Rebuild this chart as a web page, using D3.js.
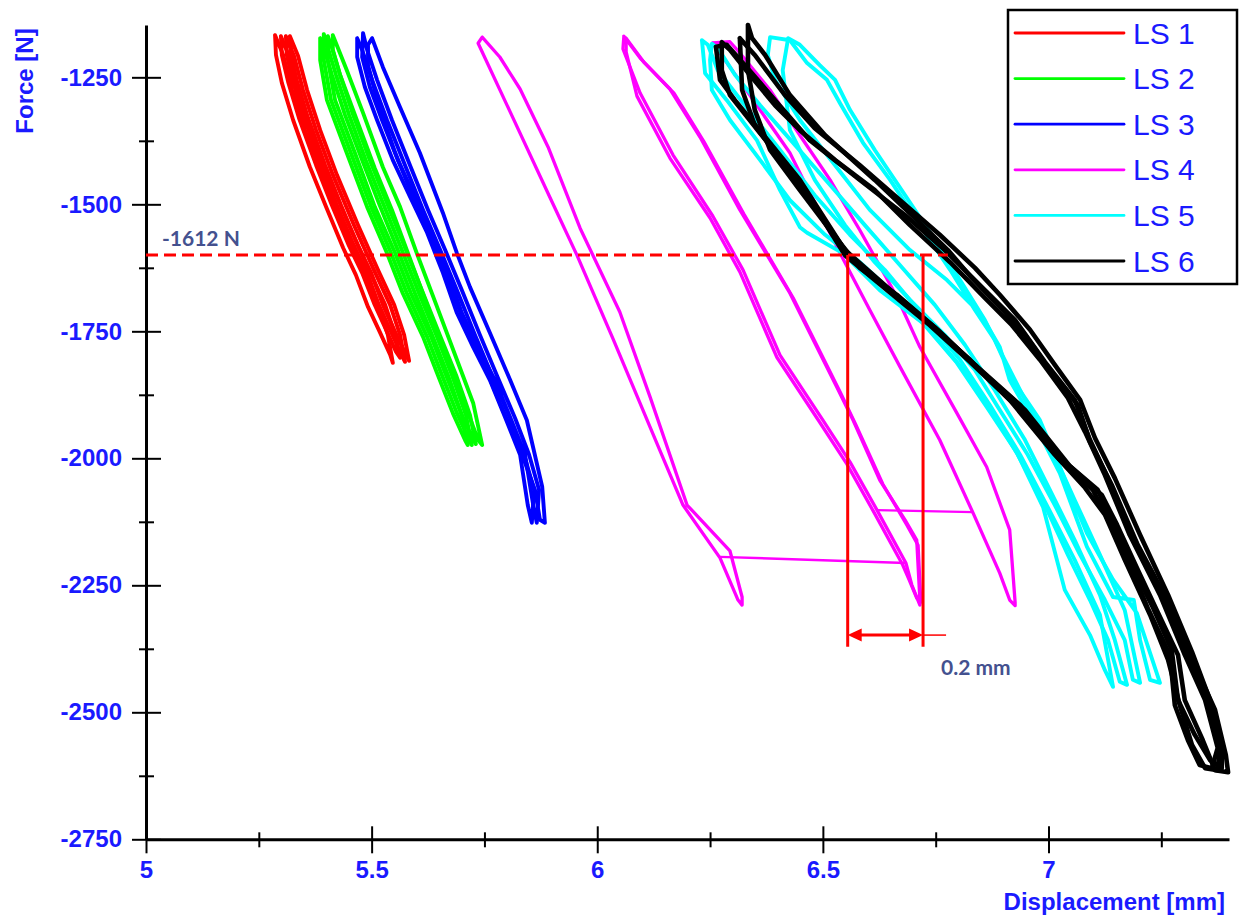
<!DOCTYPE html>
<html><head><meta charset="utf-8">
<script src="https://cdn.jsdelivr.net/npm/d3@7"></script>
<style>html,body{margin:0;padding:0;background:#fff}svg{display:block}</style>
</head><body>
<svg id="chart" width="1240" height="917"></svg>
<script>
// ---------- data ----------
const seriesNames = ["LS 1","LS 2","LS 3","LS 4","LS 5","LS 6"];
const seriesColors = ["#ff0000","#00ff00","#0000ff","#ff00ff","#00ffff","#000000"];
const xTicks = [5,5.5,6,6.5,7];
const xMinorTicks = [5.25,5.75,6.25,6.75,7.25];
const yTicks = [-2750,-2500,-2250,-2000,-1750,-1500,-1250];
const yMinorTicks = [-2625,-2375,-2125,-1875,-1625,-1375];

// displacement [mm], force [N]
const ls1Loops = [
 [[5.286,-1167],[5.304,-1206],[5.324,-1275],[5.352,-1354],[5.390,-1442],[5.437,-1541],[5.481,-1629],[5.514,-1698],[5.536,-1757],[5.547,-1812],[5.541,-1796],[5.518,-1751],[5.492,-1702],[5.465,-1639],[5.437,-1586],[5.399,-1505],[5.363,-1426],[5.326,-1334],[5.301,-1261],[5.288,-1206],[5.286,-1167]],
 [[5.299,-1169],[5.317,-1208],[5.337,-1275],[5.366,-1354],[5.403,-1442],[5.450,-1541],[5.494,-1629],[5.530,-1698],[5.552,-1757],[5.563,-1802],[5.554,-1790],[5.532,-1747],[5.505,-1694],[5.479,-1635],[5.450,-1582],[5.412,-1502],[5.377,-1423],[5.339,-1330],[5.315,-1259],[5.301,-1206],[5.299,-1169]],
 [[5.310,-1169],[5.328,-1208],[5.348,-1275],[5.377,-1354],[5.414,-1442],[5.461,-1541],[5.505,-1629],[5.541,-1698],[5.563,-1757],[5.574,-1810],[5.565,-1794],[5.543,-1751],[5.516,-1698],[5.490,-1635],[5.461,-1582],[5.423,-1502],[5.388,-1423],[5.350,-1330],[5.326,-1259],[5.312,-1206],[5.310,-1169]],
 [[5.319,-1169],[5.337,-1208],[5.357,-1275],[5.386,-1354],[5.423,-1442],[5.470,-1541],[5.514,-1629],[5.550,-1698],[5.572,-1757],[5.583,-1808],[5.574,-1794],[5.552,-1751],[5.525,-1698],[5.499,-1635],[5.470,-1582],[5.432,-1502],[5.397,-1423],[5.359,-1330],[5.335,-1259],[5.321,-1206],[5.319,-1169]]
];
const ls2Loops = [
 [[5.386,-1173],[5.392,-1186],[5.412,-1245],[5.441,-1324],[5.479,-1413],[5.518,-1502],[5.558,-1590],[5.596,-1675],[5.634,-1757],[5.669,-1836],[5.700,-1915],[5.713,-1974],[5.707,-1964],[5.680,-1911],[5.645,-1832],[5.614,-1761],[5.569,-1675],[5.534,-1596],[5.490,-1505],[5.445,-1399],[5.401,-1295],[5.386,-1216],[5.386,-1173]],
 [[5.394,-1165],[5.401,-1186],[5.421,-1245],[5.450,-1324],[5.487,-1413],[5.527,-1502],[5.567,-1590],[5.605,-1675],[5.643,-1757],[5.678,-1836],[5.709,-1915],[5.722,-1974],[5.716,-1964],[5.689,-1911],[5.654,-1832],[5.623,-1761],[5.578,-1675],[5.543,-1596],[5.499,-1505],[5.454,-1399],[5.410,-1295],[5.394,-1216],[5.394,-1165]],
 [[5.403,-1169],[5.410,-1186],[5.430,-1245],[5.459,-1324],[5.496,-1413],[5.536,-1502],[5.576,-1590],[5.614,-1675],[5.651,-1757],[5.687,-1836],[5.718,-1915],[5.731,-1972],[5.725,-1964],[5.698,-1911],[5.663,-1832],[5.632,-1761],[5.587,-1675],[5.552,-1596],[5.507,-1505],[5.463,-1399],[5.419,-1295],[5.403,-1216],[5.403,-1169]],
 [[5.414,-1167],[5.445,-1236],[5.481,-1320],[5.525,-1427],[5.563,-1505],[5.600,-1596],[5.645,-1702],[5.689,-1806],[5.725,-1891],[5.745,-1974],[5.736,-1964],[5.707,-1895],[5.671,-1810],[5.627,-1708],[5.583,-1602],[5.545,-1511],[5.507,-1429],[5.463,-1324],[5.430,-1245],[5.414,-1196],[5.414,-1167]]
];
const ls3Loops = [
 [[5.468,-1173],[5.479,-1196],[5.501,-1255],[5.534,-1334],[5.574,-1423],[5.614,-1511],[5.652,-1590],[5.689,-1669],[5.729,-1757],[5.769,-1842],[5.807,-1921],[5.838,-1993],[5.860,-2062],[5.855,-2127],[5.846,-2092],[5.829,-1993],[5.798,-1924],[5.762,-1846],[5.725,-1781],[5.689,-1714],[5.658,-1635],[5.623,-1556],[5.585,-1485],[5.547,-1413],[5.512,-1334],[5.485,-1269],[5.468,-1210],[5.468,-1173]],
 [[5.481,-1163],[5.490,-1196],[5.512,-1255],[5.545,-1334],[5.585,-1423],[5.625,-1511],[5.663,-1590],[5.700,-1669],[5.740,-1757],[5.780,-1842],[5.818,-1921],[5.849,-1993],[5.871,-2062],[5.866,-2127],[5.858,-2092],[5.840,-1993],[5.809,-1924],[5.773,-1846],[5.736,-1781],[5.700,-1714],[5.669,-1635],[5.634,-1556],[5.596,-1485],[5.558,-1413],[5.523,-1334],[5.496,-1269],[5.479,-1210],[5.481,-1163]],
 [[5.501,-1173],[5.525,-1230],[5.563,-1309],[5.607,-1399],[5.658,-1517],[5.689,-1596],[5.718,-1663],[5.762,-1753],[5.807,-1846],[5.844,-1925],[5.878,-2056],[5.884,-2127],[5.873,-2121],[5.862,-2062],[5.829,-1983],[5.791,-1905],[5.749,-1816],[5.707,-1738],[5.674,-1659],[5.640,-1580],[5.594,-1491],[5.550,-1393],[5.514,-1300],[5.492,-1226],[5.492,-1186],[5.501,-1173]]
];
const ls4Loops = [
 [[5.745,-1171],[5.784,-1210],[5.829,-1273],[5.891,-1387],[5.962,-1547],[6.050,-1712],[6.117,-1879],[6.199,-2092],[6.294,-2182],[6.321,-2273],[6.321,-2289],[6.312,-2279],[6.272,-2196],[6.190,-2092],[6.132,-1970],[6.035,-1765],[5.955,-1600],[5.895,-1486],[5.807,-1318],[5.736,-1183],[5.745,-1171]],
 [[6.059,-1169],[6.095,-1212],[6.161,-1273],[6.228,-1368],[6.316,-1511],[6.427,-1675],[6.531,-1860],[6.567,-1925],[6.626,-2043],[6.682,-2121],[6.708,-2161],[6.715,-2279],[6.715,-2289],[6.697,-2249],[6.684,-2206],[6.620,-2102],[6.560,-2007],[6.500,-1925],[6.405,-1797],[6.323,-1629],[6.256,-1523],[6.168,-1403],[6.095,-1281],[6.057,-1194],[6.059,-1169]],
 [[6.064,-1173],[6.103,-1220],[6.170,-1281],[6.236,-1376],[6.325,-1519],[6.434,-1684],[6.538,-1869],[6.573,-1934],[6.633,-2051],[6.686,-2131],[6.711,-2171],[6.717,-2283],[6.708,-2275],[6.691,-2239],[6.677,-2210],[6.613,-2106],[6.553,-2011],[6.493,-1929],[6.398,-1801],[6.316,-1633],[6.250,-1527],[6.161,-1409],[6.088,-1287],[6.064,-1200],[6.064,-1173]],
 [[6.256,-1182],[6.294,-1180],[6.316,-1202],[6.383,-1275],[6.449,-1364],[6.516,-1452],[6.582,-1551],[6.664,-1682],[6.715,-1781],[6.797,-1911],[6.863,-2017],[6.914,-2141],[6.926,-2283],[6.926,-2290],[6.914,-2279],[6.892,-2226],[6.833,-2108],[6.759,-1964],[6.671,-1820],[6.604,-1708],[6.538,-1596],[6.427,-1399],[6.338,-1285],[6.256,-1182]]
];
const ls4Jumps = [
 [[6.272,-2194],[6.684,-2206]],
 [[6.620,-2102],[6.833,-2106]]
];
const ls5Loops = [
 [[6.232,-1177],[6.245,-1186],[6.267,-1236],[6.327,-1305],[6.405,-1393],[6.482,-1482],[6.560,-1560],[6.637,-1629],[6.726,-1724],[6.804,-1806],[6.870,-1895],[6.937,-1993],[6.996,-2092],[7.058,-2200],[7.114,-2308],[7.143,-2450],[7.125,-2417],[7.092,-2348],[7.036,-2259],[6.988,-2096],[6.930,-1989],[6.863,-1899],[6.797,-1812],[6.722,-1734],[6.626,-1669],[6.544,-1596],[6.465,-1556],[6.449,-1545],[6.405,-1472],[6.354,-1374],[6.287,-1295],[6.239,-1242],[6.232,-1177]],
 [[6.383,-1171],[6.427,-1177],[6.465,-1222],[6.509,-1255],[6.538,-1301],[6.589,-1379],[6.649,-1452],[6.715,-1541],[6.782,-1629],[6.837,-1708],[6.881,-1767],[6.921,-1846],[6.981,-1925],[7.025,-2017],[7.085,-2147],[7.143,-2239],[7.196,-2305],[7.247,-2442],[7.225,-2436],[7.203,-2358],[7.189,-2279],[7.143,-2273],[7.085,-2174],[7.025,-2029],[6.965,-1925],[6.914,-1846],[6.892,-1781],[6.848,-1714],[6.775,-1649],[6.693,-1590],[6.604,-1511],[6.527,-1423],[6.449,-1334],[6.394,-1255],[6.378,-1206],[6.383,-1171]],
 [[6.423,-1173],[6.449,-1186],[6.493,-1226],[6.527,-1255],[6.560,-1314],[6.615,-1393],[6.682,-1482],[6.748,-1570],[6.804,-1649],[6.859,-1728],[6.903,-1806],[6.948,-1885],[7.003,-1974],[7.058,-2082],[7.114,-2190],[7.169,-2299],[7.203,-2442],[7.187,-2436],[7.169,-2358],[7.125,-2279],[7.070,-2190],[7.014,-2092],[6.954,-1993],[6.892,-1905],[6.837,-1826],[6.770,-1757],[6.693,-1688],[6.615,-1614],[6.549,-1541],[6.482,-1452],[6.427,-1354],[6.411,-1236],[6.423,-1173]],
 [[6.254,-1184],[6.267,-1192],[6.305,-1245],[6.361,-1305],[6.438,-1383],[6.516,-1462],[6.593,-1541],[6.671,-1620],[6.748,-1698],[6.815,-1777],[6.881,-1866],[6.948,-1964],[7.003,-2062],[7.058,-2161],[7.114,-2269],[7.147,-2358],[7.174,-2446],[7.158,-2440],[7.132,-2358],[7.092,-2279],[7.043,-2190],[6.992,-2092],[6.932,-1993],[6.870,-1901],[6.808,-1822],[6.737,-1747],[6.660,-1678],[6.582,-1614],[6.505,-1560],[6.427,-1492],[6.361,-1413],[6.294,-1334],[6.254,-1275],[6.250,-1216],[6.254,-1184]]
];
const ls6Loops = [
 [[6.263,-1190],[6.287,-1186],[6.327,-1226],[6.394,-1295],[6.471,-1374],[6.582,-1452],[6.682,-1521],[6.770,-1590],[6.859,-1669],[6.926,-1728],[6.992,-1810],[7.058,-1885],[7.092,-1964],[7.136,-2047],[7.191,-2161],[7.258,-2279],[7.313,-2397],[7.358,-2486],[7.384,-2574],[7.384,-2610],[7.358,-2594],[7.324,-2544],[7.287,-2476],[7.273,-2377],[7.229,-2289],[7.185,-2210],[7.140,-2125],[7.109,-2062],[7.036,-2007],[6.937,-1895],[6.837,-1816],[6.748,-1742],[6.649,-1669],[6.560,-1606],[6.449,-1452],[6.378,-1374],[6.305,-1295],[6.272,-1255],[6.263,-1190]],
 [[6.334,-1147],[6.343,-1173],[6.372,-1206],[6.427,-1285],[6.505,-1364],[6.615,-1452],[6.697,-1521],[6.777,-1590],[6.830,-1645],[6.903,-1712],[6.948,-1757],[7.003,-1826],[7.065,-1895],[7.092,-1968],[7.140,-2052],[7.198,-2171],[7.269,-2289],[7.324,-2407],[7.369,-2495],[7.393,-2584],[7.398,-2618],[7.369,-2614],[7.342,-2555],[7.302,-2476],[7.287,-2387],[7.240,-2299],[7.196,-2216],[7.152,-2131],[7.118,-2072],[7.047,-2015],[6.948,-1905],[6.848,-1826],[6.759,-1751],[6.664,-1678],[6.582,-1625],[6.516,-1551],[6.449,-1472],[6.383,-1393],[6.349,-1314],[6.334,-1236],[6.334,-1147]],
 [[6.316,-1173],[6.349,-1206],[6.416,-1285],[6.482,-1350],[6.582,-1423],[6.671,-1492],[6.759,-1560],[6.837,-1625],[6.892,-1678],[6.959,-1747],[7.014,-1816],[7.070,-1885],[7.103,-1960],[7.147,-2039],[7.203,-2151],[7.265,-2269],[7.318,-2381],[7.358,-2476],[7.380,-2564],[7.375,-2614],[7.347,-2610],[7.318,-2564],[7.291,-2486],[7.265,-2397],[7.225,-2308],[7.169,-2200],[7.125,-2111],[7.081,-2058],[7.014,-1993],[6.914,-1885],[6.826,-1806],[6.726,-1728],[6.637,-1659],[6.549,-1590],[6.471,-1492],[6.405,-1413],[6.349,-1344],[6.321,-1275],[6.316,-1173]],
 [[6.276,-1181],[6.294,-1196],[6.338,-1245],[6.394,-1305],[6.449,-1354],[6.527,-1413],[6.615,-1472],[6.693,-1541],[6.782,-1614],[6.859,-1684],[6.919,-1738],[6.981,-1806],[7.043,-1881],[7.081,-1948],[7.125,-2033],[7.180,-2151],[7.247,-2269],[7.302,-2387],[7.347,-2476],[7.375,-2570],[7.362,-2610],[7.335,-2604],[7.309,-2555],[7.280,-2486],[7.269,-2387],[7.220,-2295],[7.180,-2210],[7.132,-2121],[7.098,-2062],[7.025,-2003],[6.926,-1895],[6.826,-1810],[6.737,-1738],[6.637,-1665],[6.549,-1600],[6.438,-1442],[6.361,-1360],[6.294,-1285],[6.276,-1236],[6.276,-1181]]
];

// annotation values
const refForce = -1600;          // dashed reference line
const refLabel = "-1612 N";
const refEndDisp = 6.777;
const markDisp = [6.555, 6.722]; // vertical marker lines
const markBottomForce = -2371;
const arrowForce = -2348;
const arrowExtDisp = 6.773;
const gapLabel = "0.2 mm";

// ---------- drawing ----------
const svg = d3.select("#chart");
const fontFam = "'Liberation Sans', Arial, Helvetica, sans-serif";
const blue = "#1a1aff";
const noteColor = "#44518f";

const x = d3.scaleLinear().domain([5, 7.4]).range([146, 1229]);
const y = d3.scaleLinear().domain([-2750, -1147]).range([839.3, 25]);

const line = d3.line().x(d => x(d[0])).y(d => y(d[1]));

const all = [ls1Loops, ls2Loops, ls3Loops, ls4Loops, ls5Loops, ls6Loops];
const widths = [3.9, 3.9, 3.9, 3.3, 3.9, 4.6];
const plot = svg.append("g");
all.forEach((loops, i) => {
  plot.append("g").selectAll("path").data(loops).join("path")
    .attr("d", line).attr("fill", "none")
    .attr("stroke", seriesColors[i]).attr("stroke-width", widths[i])
    .attr("stroke-linejoin", "round").attr("stroke-linecap", "round");
  if (i === 3) {
    plot.append("g").selectAll("path").data(ls4Jumps).join("path")
      .attr("d", line).attr("fill", "none")
      .attr("stroke", seriesColors[3]).attr("stroke-width", 2.4);
  }
});

// axes
function styleAxis(g) {
  g.selectAll(".tick line").attr("stroke", "#000").attr("stroke-width", 2);
  g.selectAll(".tick text").attr("fill", blue)
    .style("font-family", fontFam).style("font-weight", "bold").style("font-size", "24px");
}
const x0 = x(5), y0 = y(-2750);
// Y axis
const gy = svg.append("g").attr("transform", `translate(${x0},0)`)
  .call(d3.axisLeft(y).tickValues(yTicks).tickSizeInner(14).tickSizeOuter(0).tickPadding(10).tickFormat(d => String(d)));
gy.select(".domain").attr("stroke", "#000").attr("stroke-width", 3);
styleAxis(gy);
svg.append("g").attr("transform", `translate(${x0},0)`)
  .call(d3.axisRight(y).tickValues(yTicks).tickSize(15).tickFormat(""))
  .call(g => { g.select(".domain").remove(); styleAxis(g); });
svg.append("g").attr("transform", `translate(${x0},0)`)
  .call(d3.axisLeft(y).tickValues(yMinorTicks).tickSize(7).tickFormat(""))
  .call(g => { g.select(".domain").remove(); styleAxis(g); });
svg.append("g").attr("transform", `translate(${x0},0)`)
  .call(d3.axisRight(y).tickValues(yMinorTicks).tickSize(8).tickFormat(""))
  .call(g => { g.select(".domain").remove(); styleAxis(g); });
// X axis
const gx = svg.append("g").attr("transform", `translate(0,${y0})`)
  .call(d3.axisBottom(x).tickValues(xTicks).tickSizeInner(14).tickSizeOuter(0).tickPadding(8).tickFormat(d => String(d)));
gx.select(".domain").attr("stroke", "#000").attr("stroke-width", 3);
styleAxis(gx);
svg.append("g").attr("transform", `translate(0,${y0})`)
  .call(d3.axisTop(x).tickValues(xTicks).tickSize(13).tickFormat(""))
  .call(g => { g.select(".domain").remove(); styleAxis(g); });
svg.append("g").attr("transform", `translate(0,${y0})`)
  .call(d3.axisBottom(x).tickValues(xMinorTicks).tickSize(8).tickFormat(""))
  .call(g => { g.select(".domain").remove(); styleAxis(g); });
svg.append("g").attr("transform", `translate(0,${y0})`)
  .call(d3.axisTop(x).tickValues(xMinorTicks).tickSize(7).tickFormat(""))
  .call(g => { g.select(".domain").remove(); styleAxis(g); });

// axis titles
svg.append("text").attr("transform", "translate(33,81) rotate(-90)")
  .attr("text-anchor", "middle").attr("fill", blue)
  .style("font-family", fontFam).style("font-weight", "bold").style("font-size", "24px")
  .text("Force [N]");
svg.append("text").attr("x", 1225).attr("y", 910)
  .attr("text-anchor", "end").attr("fill", blue)
  .style("font-family", fontFam).style("font-weight", "bold").style("font-size", "24px")
  .text("Displacement [mm]");

// annotations
const red = "#ff0000";
svg.append("line").attr("x1", x(5)).attr("x2", x(refEndDisp))
  .attr("y1", y(refForce)).attr("y2", y(refForce))
  .attr("stroke", red).attr("stroke-width", 3).attr("stroke-dasharray", "12,6");
svg.append("text").attr("x", x(5) + 16).attr("y", y(refForce) - 9)
  .attr("fill", noteColor)
  .style("font-family", "Lato, 'Open Sans', sans-serif").style("font-weight", "bold").style("font-size", "21px")
  .text(refLabel);
markDisp.forEach(d => {
  svg.append("line").attr("x1", x(d)).attr("x2", x(d))
    .attr("y1", y(refForce)).attr("y2", y(markBottomForce))
    .attr("stroke", red).attr("stroke-width", 3);
});
const ay = y(arrowForce), ax1 = x(markDisp[0]), ax2 = x(markDisp[1]);
svg.append("line").attr("x1", ax1 + 10).attr("x2", ax2 - 10).attr("y1", ay).attr("y2", ay)
  .attr("stroke", red).attr("stroke-width", 3);
svg.append("line").attr("x1", ax2).attr("x2", x(arrowExtDisp)).attr("y1", ay).attr("y2", ay)
  .attr("stroke", red).attr("stroke-width", 1.5);
svg.append("path").attr("d", `M${ax1},${ay}L${ax1 + 14},${ay - 6.5}L${ax1 + 14},${ay + 6.5}Z`).attr("fill", red);
svg.append("path").attr("d", `M${ax2},${ay}L${ax2 - 14},${ay - 6.5}L${ax2 - 14},${ay + 6.5}Z`).attr("fill", red);
svg.append("text").attr("x", x(markDisp[1]) + 18).attr("y", ay + 40)
  .attr("fill", noteColor)
  .style("font-family", "Lato, 'Open Sans', sans-serif").style("font-weight", "bold").style("font-size", "21px")
  .text(gapLabel);

// legend
const lg = svg.append("g");
lg.append("rect").attr("x", 1008).attr("y", 10).attr("width", 229).attr("height", 274)
  .attr("fill", "#fff").attr("stroke", "#000").attr("stroke-width", 2.5);
seriesNames.forEach((name, i) => {
  const ly = 33 + i * 45.6;
  lg.append("line").attr("x1", 1015).attr("x2", 1124).attr("y1", ly).attr("y2", ly)
    .attr("stroke", seriesColors[i]).attr("stroke-width", 2.8).attr("stroke-linecap", "round");
  lg.append("text").attr("x", 1133).attr("y", ly + 10.5).attr("fill", blue)
    .style("font-family", fontFam).style("font-size", "30px").text(name);
});
</script>
</body></html>
